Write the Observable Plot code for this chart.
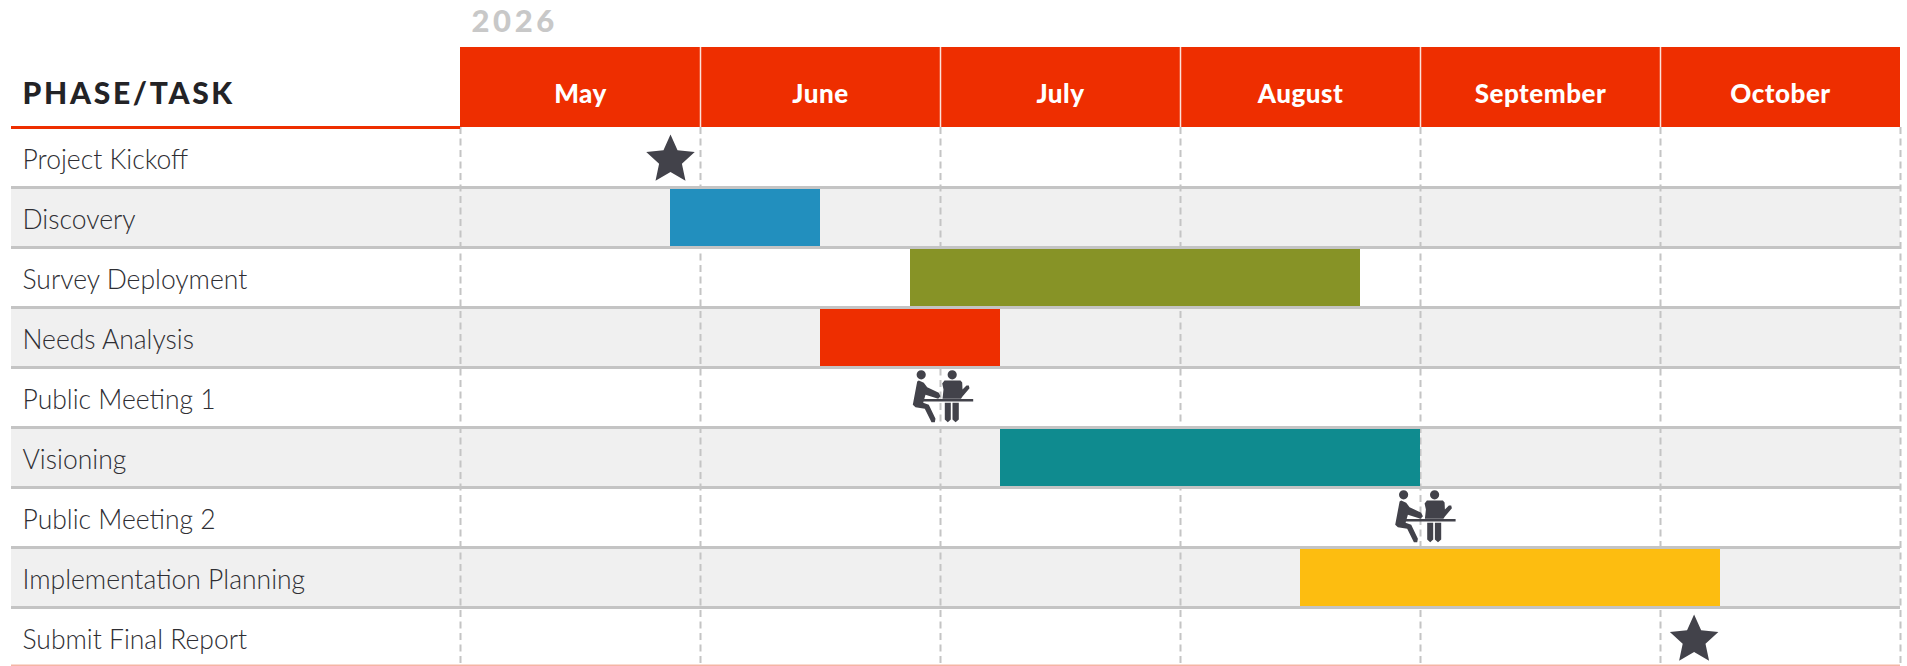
<!DOCTYPE html>
<html><head><meta charset="utf-8">
<style>html,body{margin:0;padding:0;background:#fff;overflow:hidden}svg{display:block}</style>
<script src="https://cdn.jsdelivr.net/npm/d3@7"></script>
<script src="https://cdn.jsdelivr.net/npm/@observablehq/plot@0.6"></script>
</head><body><div id="chart"></div>
<script>
const year = "2026";
const columnTitle = "PHASE/TASK";
const months = ["May","June","July","August","September","October"];
const tasks = ["Project Kickoff","Discovery","Survey Deployment","Needs Analysis","Public Meeting 1","Visioning","Public Meeting 2","Implementation Planning","Submit Final Report"];
// month positions: 0 = start of May, 1 = start of June ...
const barTasks = ["Discovery","Survey Deployment","Needs Analysis","Visioning","Implementation Planning"];
const barStarts = [0.875,1.875,1.5,2.25,3.5];
const barEnds = [1.5,3.75,2.25,4,5.25];
const barColors = ["#228fbe","#879326","#ee2e00","#0f8b8f","#fdbd10"];
const starTasks = ["Project Kickoff","Submit Final Report"];
const starAt = [0.875,5.14];
const meetingTasks = ["Public Meeting 1","Public Meeting 2"];
const meetingAt = [2,4.01];

const FONT = "Lato, sans-serif";
const RED = "#ee2e00", DARK = "#42424a", LINE = "#c4c4c4";
const rows = tasks.map((t,i)=>({t,i}));
const rowOf = t => tasks.indexOf(t);
const bars = barTasks.map((t,i)=>({r:rowOf(t),a:barStarts[i],b:barEnds[i],c:barColors[i]}));
const stars = starTasks.map((t,i)=>({r:rowOf(t),x:starAt[i]}));
const meets = meetingTasks.map((t,i)=>({r:rowOf(t),x:meetingAt[i]}));
const mIdx = d3.range(months.length+1);

const LEFT = -449/240, HEAD = -4/3, BOTTOM = 8.967;

const fatStar = {draw(c,size){
  const R = Math.sqrt(size/Math.PI), q = R*0.47;
  for(let k=0;k<10;k++){
    const a = -Math.PI/2 + k*Math.PI/5, rr = k%2? q:R;
    const px = rr*Math.cos(a), py = rr*Math.sin(a);
    k? c.lineTo(px,py):c.moveTo(px,py);
  }
  c.closePath();
}};

// custom pictogram: two people at a table, unit = px when r = 30
const meetingSymbol = {draw(c,size){
  const s = Math.sqrt(size/Math.PI)/30;
  const poly = pts => {pts.forEach((p,i)=> i? c.lineTo(p[0]*s,p[1]*s):c.moveTo(p[0]*s,p[1]*s)); c.closePath();};
  const circ = (x,y,r)=>{c.moveTo((x+r)*s,y*s); c.arc(x*s,y*s,r*s,0,2*Math.PI);};
  circ(-19.3,-22.7,4.6); circ(11.7,-22.7,4.6);
  // left person
  poly([[-23.3,-16],[-21.7,-17],[-16.7,-14.7],[-13.3,-10.3],[-1.7,-4.7],[0,-1.3],[-2.3,1.3],[-15,-2.7],[-17.3,5.3],[-11.7,7.3],[-5,21.3],[-5.7,24.7],[-9,24.7],[-15.7,11.3],[-25,9.7],[-27.7,7.3]]);
  // right person torso + arm
  poly([[4,-17],[20,-17],[21.7,-15],[22,-8],[26,-12],[28.3,-12],[29,-9.3],[22,-1],[20.5,1.3],[2,1.3],[3,-8],[1.7,-14]]);
  // table
  poly([[-17.7,1.5],[32.7,1.5],[32.7,4],[-17.7,4]]);
  // right legs
  poly([[4.3,5.3],[10.3,5.3],[10.3,22],[7.3,24.7],[4.3,22]]);
  poly([[12,5.3],[18.3,5.3],[18.3,22],[15.1,24.7],[12,22]]);
}};

const chart = Plot.plot({
  width:1907, height:666,
  marginLeft:11, marginRight:7, marginTop:0, marginBottom:0,
  style:{fontFamily:FONT, background:"#fff", overflow:"visible"},
  x:{axis:null, domain:[LEFT,6], range:[11,1900]},
  y:{axis:null, domain:[HEAD,9], range:[47,667]},
  marks:[
    Plot.rect(rows.filter(d=>d.i%2==1),{x1:LEFT,x2:6,y1:d=>d.i,y2:d=>d.i+1,fill:"#f0f0f0"}),
    Plot.ruleX(mIdx,{y1:0,y2:9,stroke:LINE,strokeWidth:2,strokeDasharray:"7 4.5"}),
    Plot.rect(bars,{x1:"a",x2:"b",y1:"r",y2:d=>d.r+1,fill:"c"}),
    Plot.ruleY(d3.range(1,9),{x1:LEFT,x2:6,stroke:LINE,strokeWidth:3}),
    Plot.ruleY([BOTTOM],{x1:LEFT,x2:6,stroke:"#f5b5a5",strokeWidth:2}),
    Plot.rect(months,{x1:(d,i)=>i,x2:(d,i)=>i+1,y1:HEAD,y2:0,fill:RED}),
    Plot.ruleX(d3.range(1,6),{y1:HEAD,y2:0,stroke:"#fff",strokeWidth:1.5,strokeOpacity:0.85}),
    Plot.ruleY([0],{x1:LEFT,x2:0,stroke:RED,strokeWidth:3}),
    Plot.text(months,{x:(d,i)=>i+.5,y:-0.54,text:d=>d,fill:"#fff",fontSize:26,fontWeight:900,lineAnchor:"middle"}),
    Plot.text([columnTitle],{x:LEFT,y:-0.56,dx:11,text:d=>d,textAnchor:"start",fill:"#232326",fontSize:30,fontWeight:900,lineAnchor:"middle"}),
    Plot.text([year],{x:0,y:HEAD,dx:11,dy:-25,text:d=>d,textAnchor:"start",fill:"#c8c8c8",fontSize:31,fontWeight:900,lineAnchor:"middle"}),
    Plot.text(rows,{x:LEFT,y:d=>d.i+.5,dx:11,dy:3,text:"t",textAnchor:"start",fill:"#2e2e33",fontSize:26.5,fontWeight:300,lineAnchor:"middle"}),
    Plot.dot(stars,{x:"x",y:d=>d.r+.5,dy:2.5,symbol:fatStar,r:25.5,fill:DARK,stroke:"none"}),
    Plot.dot(meets,{x:"x",y:d=>d.r+.5,symbol:meetingSymbol,r:30,fill:DARK,stroke:"none"})
  ]
});
const spacing = t => t===columnTitle ? "2.7px" : t===year ? "3.6px" : months.includes(t) ? "0.5px" : null;
d3.select(chart).selectAll("text").each(function(){
  const ls = spacing(this.textContent);
  if(ls) this.style.letterSpacing = ls;
});
document.getElementById("chart").append(chart);
</script>
</body></html>
